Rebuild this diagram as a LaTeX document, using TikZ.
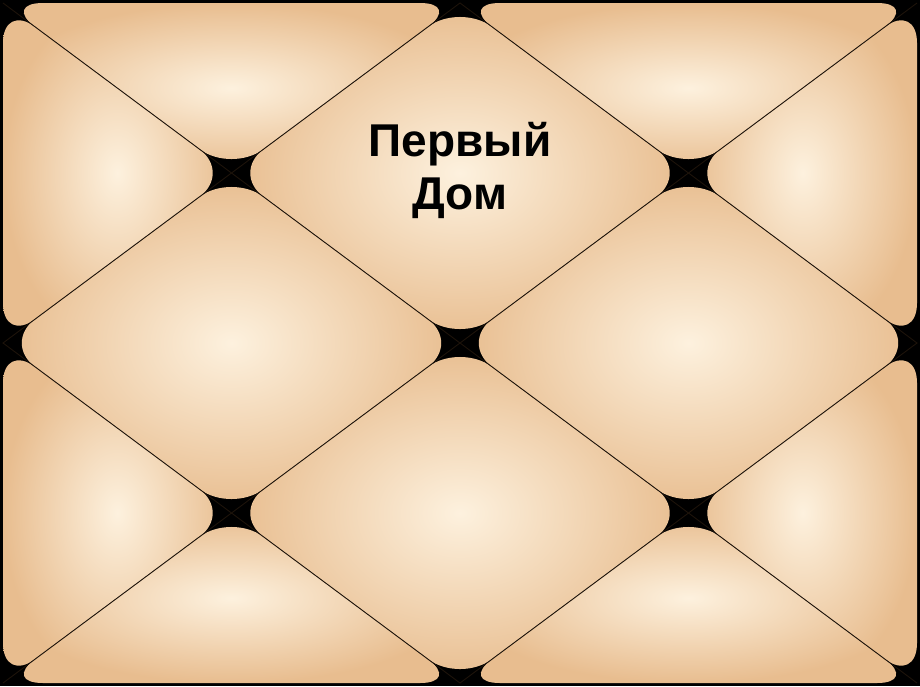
\documentclass[tikz,border=0pt]{standalone}
\usepackage{fontspec}
\setmainfont{Liberation Sans}
\definecolor{houselight}{RGB}{253,241,222}
\definecolor{housedark}{RGB}{232,189,143}
\begin{document}
\begin{tikzpicture}[x=1pt,y=-1pt]

\tikzstyle{house}=[rounded corners=40pt, inner color=houselight, outer color=housedark]
\tikzstyle{seam}=[line width=0.9pt, black!85!brown]
\tikzstyle{label}=[font=\bfseries\fontsize{46}{53}\selectfont, align=center, text=black]

\fill[black] (0,0) rectangle (920,686);

% corners, middles of the sides, quarter points
\coordinate (TL) at (3,3);
\coordinate (TM) at (460,3);
\coordinate (TR) at (917,3);
\coordinate (LM) at (3,343);
\coordinate (RM) at (917,343);
\coordinate (BL) at (3,683);
\coordinate (BM) at (460,683);
\coordinate (BR) at (917,683);
\coordinate (C)  at (460,343);
\coordinate (Q1) at (231.5,173);
\coordinate (Q2) at (688.5,173);
\coordinate (Q3) at (231.5,513);
\coordinate (Q4) at (688.5,513);

% the four diamonds
\foreach \a/\b/\c/\d in {TM/Q2/C/Q1, LM/Q1/C/Q3, BM/Q3/C/Q4, RM/Q4/C/Q2}
  \fill[house] (\a) -- (\b) -- (\c) -- (\d) -- cycle;

% the eight triangles
\foreach \a/\b/\c in {TL/TM/Q1, TL/Q1/LM, LM/Q3/BL, BL/Q3/BM,
                      BM/Q4/BR, BR/Q4/RM, RM/Q2/TR, TR/Q2/TM}
  \fill[house] (\a) -- (\b) -- (\c) -- cycle;

\draw[seam] (TL) -- (BR) (TR) -- (BL) (TM) -- (RM) -- (BM) -- (LM) -- cycle;

\node (house1) [label] at (460,170) {Первый\\Дом};

\end{tikzpicture}
\end{document}
